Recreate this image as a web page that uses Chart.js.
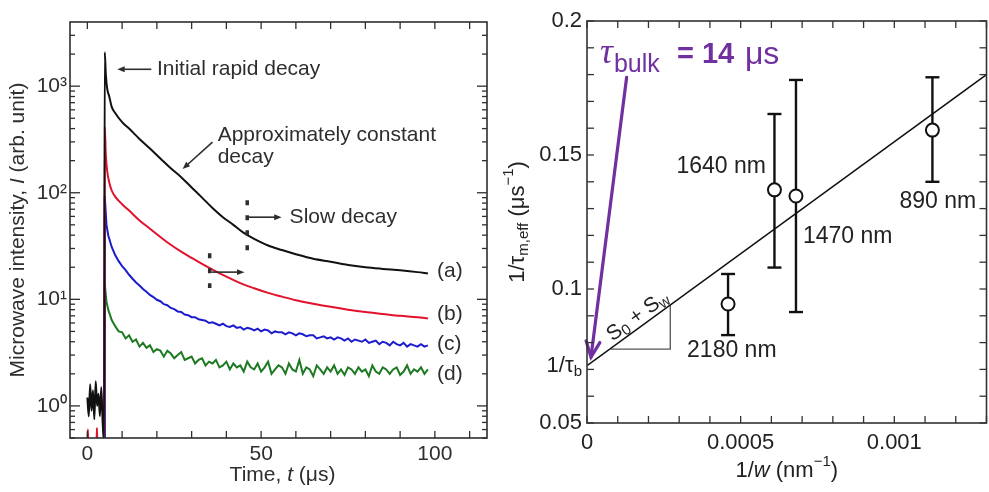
<!DOCTYPE html>
<html>
<head>
<meta charset="utf-8">
<script src="https://cdn.jsdelivr.net/npm/chart.js@4.4.1/dist/chart.umd.min.js"></script>
<style>
  html, body { margin: 0; padding: 0; background: #fff; }
  #wrap { position: relative; width: 989px; height: 492px; overflow: hidden; }
  #decayBox { position: absolute; left: 0; top: 0; width: 495px; height: 492px; }
  #lifeBox { position: absolute; left: 495px; top: 0; width: 500px; height: 492px; }
</style>
</head>
<body>
<div id="wrap">
  <div id="decayBox"><canvas id="decayChart"></canvas></div>
  <div id="lifeBox"><canvas id="lifeChart"></canvas></div>
</div>
<script>
// ---- left panel: microwave decay curves, time in µs ----
const blackTime = [0, 0.4, 0.8, 1.2, 1.6, 2.0, 2.4, 2.8, 3.2, 3.6, 4.0, 4.4, 4.8,
  5, 5.3, 5.7, 6.3, 7, 8, 10, 12, 15, 18, 21, 24, 27, 30, 33, 36, 39, 42, 45, 48,
  52, 56, 60, 65, 70, 75, 80, 85, 90, 95, 98];
const blackCurve = [1.2, 0.8, 1.6, 0.9, 1.4, 0.75, 1.7, 1.0, 1.3, 0.8, 1.5, 0.7, 0.45,
  2090, 1300, 950, 800, 640, 560, 460, 400, 320, 260, 210, 170, 140, 112, 90, 72, 59, 50, 42, 37,
  32, 29, 26.5, 24, 22.5, 21, 20, 19.3, 18.7, 18, 17.5];

const redTime = [0, 0.15, 0.3, 2.6, 2.75, 2.9, 4.9,
  5, 5.3, 5.7, 6.3, 7, 8, 10, 12, 15, 18, 21, 24, 27, 30, 33, 36, 40, 44, 48,
  52, 56, 60, 65, 70, 75, 80, 85, 90, 95, 98];
const redCurve = [0.4, 0.6, 0.4, 0.4, 0.62, 0.4, 0.4,
  415, 230, 160, 125, 105, 92, 78, 68, 55, 46, 38.5, 32.5, 28, 24.5, 21.5, 19, 16.3, 14.2, 12.7,
  11.5, 10.6, 9.8, 9.1, 8.5, 8.0, 7.6, 7.3, 7.0, 6.8, 6.6];

const noisyTime = [4.9, 5, 5.5, 6,
  7, 8, 9, 10, 11, 12, 13, 14, 15, 16,
  17, 18, 19, 20, 21, 22, 23, 24, 25, 26,
  27, 28, 29, 30, 31, 32, 33, 34, 35, 36,
  37, 38, 39, 40, 41, 42, 43, 44, 45, 46,
  47, 48, 49, 50, 51, 52, 53, 54, 55, 56,
  57, 58, 59, 60, 61, 62, 63, 64, 65, 66,
  67, 68, 69, 70, 71, 72, 73, 74, 75, 76,
  77, 78, 79, 80, 81, 82, 83, 84, 85, 86,
  87, 88, 89, 90, 91, 92, 93, 94, 95, 96,
  97, 98];
const blueCurve = [0.4, 93, 50, 40,
  31, 26, 22.8, 20.5, 18.8, 17.0, 15.6, 14.4, 13.5, 12.5,
  11.8, 11.0, 10.5, 9.9, 9.6, 9.0, 8.8, 8.3, 8.1, 7.7,
  7.6, 7.2, 7.1, 6.8, 6.8, 6.5, 6.4, 6.3, 6.0, 6.1,
  5.9, 5.7, 5.9, 5.6, 5.5, 5.7, 5.4, 5.5, 5.2, 5.4,
  5.3, 5.1, 5.3, 5.0, 5.2, 5.1, 4.8, 5.0, 4.9, 4.9,
  4.7, 4.9, 4.8, 4.6, 4.8, 4.7, 4.5, 4.6, 4.6, 4.3,
  4.4, 4.5, 4.3, 4.4, 4.2, 4.4, 4.3, 4.1, 4.3, 4.0,
  4.2, 4.1, 4.0, 4.2, 3.9, 4.0, 4.1, 3.8, 4.0, 3.9,
  3.7, 4.0, 3.8, 3.7, 3.9, 3.6, 3.8, 3.7, 3.6, 3.8,
  3.6, 3.7];
const greenCurve = [0.4, 14, 9.5, 8,
  6.4, 5.6, 5.0, 4.9, 4.3, 4.6, 4.0, 4.2, 3.6, 3.9,
  3.5, 3.7, 3.2, 3.4, 3.3, 2.9, 3.3, 3.1, 2.8, 3.0,
  3.2, 2.7, 2.8, 2.9, 2.5, 2.7, 2.8, 2.4, 2.6, 2.5,
  2.7, 2.3, 2.4, 2.6, 2.2, 2.5, 2.3, 2.4, 2.1, 2.6,
  2.3, 2.2, 2.5, 2.1, 2.3, 2.6, 2.0, 2.2, 2.4, 2.3,
  2.0, 2.5, 2.2, 2.1, 2.7, 2.0, 2.3, 2.2, 1.9, 2.4,
  2.2, 2.0, 2.3, 2.1, 2.4, 2.0, 2.2, 1.95, 2.3, 2.2,
  2.0, 2.3, 2.1, 2.2, 1.9, 2.4, 2.1, 2.0, 2.3, 2.2,
  2.0, 2.2, 2.3, 1.95, 2.1, 2.4, 2.0, 2.2, 2.1, 2.3,
  2.0, 2.2];
const curveTags = ['(a)', '(b)', '(c)', '(d)'];

const decayTimeTicks = [0, 10, 20, 30, 40, 50, 60, 70, 80, 90, 100, 110];
const decayTimeLabels = [0, 50, 100];
const decayLogTicks = [0.5, 0.6, 0.7, 0.8, 0.9,
  1, 2, 3, 4, 5, 6, 7, 8, 9,
  10, 20, 30, 40, 50, 60, 70, 80, 90,
  100, 200, 300, 400, 500, 600, 700, 800, 900,
  1000, 2000, 3000];
const decayLogLabels = { 1: '10⁰', 10: '10¹', 100: '10²', 1000: '10³' };

// ---- right panel: effective rate vs inverse wafer thickness ----
const invWidth = [0.000459, 0.000610, 0.000680, 0.001124];
const rateMean = [0.0944, 0.137, 0.1347, 0.1593];
const rateHigh = [0.1056, 0.1653, 0.178, 0.179];
const rateLow = [0.0828, 0.108, 0.0914, 0.140];
const widthLabels = ['2180 nm', '1640 nm', '1470 nm', '890 nm'];
const fitX = [0, 0.0013];
const fitY = [0.0714, 0.180];
const invWidthTicks = [0, 0.0001, 0.0002, 0.0003, 0.0004, 0.0005, 0.0006, 0.0007,
  0.0008, 0.0009, 0.001, 0.0011, 0.0012, 0.0013];
const invWidthLabels = [0, 0.0005, 0.001];
const rateTicks = [0.05, 0.06, 0.07, 0.08, 0.09, 0.1, 0.11, 0.12, 0.13, 0.14,
  0.15, 0.16, 0.17, 0.18, 0.19, 0.2];
const rateLabels = [0.05, 0.1, 0.15, 0.2];
const bulkRate = 0.0714;

const INK = '#2e2e2e';
const SANS = "'Liberation Sans', Arial, sans-serif";
const PURPLE = '#7030a0';

document.addEventListener('DOMContentLoaded', () => {
  Chart.defaults.font.family = SANS;
  Chart.defaults.color = INK;
  initDecayChart();
  initLifeChart();
});

/** draw text made of several pieces (sub/superscripts, italics) */
function drawRich(ctx, parts, x, y, align) {
  let w = 0;
  parts.forEach(p => { ctx.font = p.font; w += ctx.measureText(p.text).width; });
  let cx = align === 'center' ? x - w / 2 : align === 'right' ? x - w : x;
  ctx.textAlign = 'left';
  parts.forEach(p => {
    ctx.font = p.font;
    ctx.fillText(p.text, cx, y + (p.dy || 0));
    cx += ctx.measureText(p.text).width;
  });
}

function arrowLine(ctx, x1, y1, x2, y2, head, width) {
  const a = Math.atan2(y2 - y1, x2 - x1);
  ctx.lineWidth = width;
  ctx.beginPath();
  ctx.moveTo(x1, y1);
  ctx.lineTo(x2 - Math.cos(a) * head * 0.7, y2 - Math.sin(a) * head * 0.7);
  ctx.stroke();
  ctx.beginPath();
  ctx.moveTo(x2, y2);
  ctx.lineTo(x2 - head * Math.cos(a - 0.38), y2 - head * Math.sin(a - 0.38));
  ctx.lineTo(x2 - head * Math.cos(a + 0.38), y2 - head * Math.sin(a + 0.38));
  ctx.closePath();
  ctx.fill();
}

function seg(ctx, x1, y1, x2, y2) {
  ctx.beginPath(); ctx.moveTo(x1, y1); ctx.lineTo(x2, y2); ctx.stroke();
}

function pairs(xs, ys) {
  return xs.map((x, i) => ({ x: x, y: ys[i] }));
}

/** Left: log-scale decay curves */
function initDecayChart() {
  const ctx = document.getElementById('decayChart');
  const f21 = '21px ' + SANS;

  const decayDecor = {
    id: 'decayDecor',
    afterDatasetsDraw(chart) {
      const { ctx, scales: { x, y } } = chart;
      const P = (t, v) => [x.getPixelForValue(t), y.getPixelForValue(v)];
      ctx.save();
      ctx.fillStyle = INK;
      ctx.strokeStyle = INK;
      ctx.font = f21;
      ctx.textBaseline = 'middle';
      ctx.textAlign = 'left';

      // initial rapid decay
      let a = P(18.4, 1440), b = P(8.6, 1440);
      arrowLine(ctx, a[0], a[1], b[0], b[1], 8, 1.6);
      let t = P(20.0, 1440);
      ctx.fillText('Initial rapid decay', t[0], t[1]);

      // approximately constant decay
      t = P(37.5, 347);
      ctx.fillText('Approximately constant', t[0], t[1]);
      t = P(37.5, 216);
      ctx.fillText('decay', t[0], t[1]);
      a = P(36, 298); b = P(27.4, 167);
      arrowLine(ctx, a[0], a[1], b[0], b[1], 8, 1.6);

      // slow decay markers
      ctx.setLineDash([5, 10]);
      ctx.lineWidth = 3.5;
      a = P(46, 85); b = P(46, 27);
      seg(ctx, a[0], a[1], b[0], b[1]);
      a = P(35.2, 27); b = P(35.2, 12.8);
      seg(ctx, a[0], a[1], b[0], b[1]);
      ctx.setLineDash([]);
      a = P(46.1, 59); b = P(55.9, 59);
      arrowLine(ctx, a[0], a[1], b[0], b[1], 8, 1.6);
      t = P(58.2, 59);
      ctx.fillText('Slow decay', t[0], t[1]);
      a = P(35.7, 18); b = P(45.2, 18);
      arrowLine(ctx, a[0], a[1], b[0], b[1], 8, 1.6);

      // curve tags
      const tagVals = [18.5, 7.3, 3.8, 2.0];
      curveTags.forEach((tag, i) => {
        const p = P(100.6, tagVals[i]);
        ctx.fillText(tag, p[0], p[1]);
      });
      ctx.restore();
    },
    afterDraw(chart) {
      const { ctx, chartArea: c, scales: { x, y } } = chart;
      ctx.save();
      ctx.strokeStyle = INK;
      ctx.fillStyle = INK;
      ctx.lineWidth = 1.6;
      ctx.strokeRect(c.left, c.top, c.right - c.left, c.bottom - c.top);
      ctx.lineWidth = 1.3;
      x.ticks.forEach(tk => {
        const px = x.getPixelForValue(tk.value);
        seg(ctx, px, c.bottom, px, c.bottom - 7);
        seg(ctx, px, c.top, px, c.top + 7);
      });
      y.ticks.forEach(tk => {
        const py = y.getPixelForValue(tk.value);
        const len = decayLogLabels[tk.value] ? 10 : 5;
        seg(ctx, c.left, py, c.left + len, py);
        seg(ctx, c.right, py, c.right - len, py);
      });
      // axis titles
      ctx.textBaseline = 'middle';
      drawRich(ctx, [
        { text: 'Time, ', font: f21 },
        { text: 't', font: 'italic ' + f21 },
        { text: ' (μs)', font: f21 }
      ], (c.left + c.right) / 2 + 4, 475, 'center');
      ctx.translate(18, (c.top + c.bottom) / 2);
      ctx.rotate(-Math.PI / 2);
      drawRich(ctx, [
        { text: 'Microwave intensity, ', font: f21 },
        { text: 'I', font: 'italic ' + f21 },
        { text: ' (arb. unit)', font: f21 }
      ], 0, 0, 'center');
      ctx.restore();
    }
  };

  new Chart(ctx, {
    type: 'scatter',
    data: {
      datasets: [
        { data: pairs(blackTime, blackCurve), borderColor: '#111111', cubicInterpolationMode: 'monotone' },
        { data: pairs(redTime, redCurve), borderColor: '#e3122c', cubicInterpolationMode: 'monotone' },
        { data: pairs(noisyTime, blueCurve), borderColor: '#1c1ccf' },
        { data: pairs(noisyTime, greenCurve), borderColor: '#1d7a22' }
      ].map(d => Object.assign(d, { showLine: true, pointRadius: 0, borderWidth: 2 }))
    },
    options: {
      responsive: true,
      maintainAspectRatio: false,
      animation: false,
      layout: { padding: { left: 0, top: 22, right: 8, bottom: 0 } },
      plugins: { legend: { display: false }, tooltip: { enabled: false } },
      scales: {
        x: {
          type: 'linear', min: -5, max: 115,
          grid: { display: false, drawTicks: false }, border: { display: false },
          afterBuildTicks: s => { s.ticks = decayTimeTicks.map(v => ({ value: v })); },
          afterFit: s => { s.height = 54; },
          ticks: {
            padding: 4, autoSkip: false, maxRotation: 0,
            font: { size: 21 }, color: INK,
            callback: v => decayTimeLabels.includes(v) ? String(v) : ''
          }
        },
        y: {
          type: 'logarithmic', min: 0.5, max: 4000,
          grid: { display: false, drawTicks: false }, border: { display: false },
          afterBuildTicks: s => { s.ticks = decayLogTicks.map(v => ({ value: v })); },
          afterFit: s => { s.width = 70; },
          ticks: {
            padding: 3, autoSkip: false,
            font: { size: 21 }, color: INK,
            callback: v => decayLogLabels[v] || ''
          }
        }
      }
    },
    plugins: [decayDecor]
  });
}

/** Right: 1/tau vs 1/w with linear fit */
function initLifeChart() {
  const ctx = document.getElementById('lifeChart');
  const f22 = '22px ' + SANS;
  const f23 = '23px ' + SANS;
  const f15 = '15px ' + SANS;
  const labelOffsets = [[-41, 47], [-98, -23], [7, 41], [-33, 72]];

  const lifeDecor = {
    id: 'lifeDecor',
    beforeDatasetsDraw(chart) {
      const { ctx, scales: { x, y } } = chart;
      ctx.save();
      ctx.strokeStyle = '#111';
      ctx.lineWidth = 2.4;
      invWidth.forEach((w, i) => {
        const px = x.getPixelForValue(w);
        const top = y.getPixelForValue(rateHigh[i]);
        const bot = y.getPixelForValue(rateLow[i]);
        seg(ctx, px, top, px, bot);
        seg(ctx, px - 7, top, px + 7, top);
        seg(ctx, px - 7, bot, px + 7, bot);
      });
      // slope triangle
      ctx.strokeStyle = '#555';
      ctx.lineWidth = 1.3;
      ctx.beginPath();
      ctx.moveTo(x.getPixelForValue(0.0000774), y.getPixelForValue(0.0776));
      ctx.lineTo(x.getPixelForValue(0.000271), y.getPixelForValue(0.0776));
      ctx.lineTo(x.getPixelForValue(0.000271), y.getPixelForValue(0.0940));
      ctx.stroke();
      ctx.restore();
    },
    afterDatasetsDraw(chart) {
      const { ctx, scales: { x, y } } = chart;
      ctx.save();
      ctx.fillStyle = '#222';
      ctx.textBaseline = 'middle';
      ctx.font = f23;
      ctx.textAlign = 'left';
      widthLabels.forEach((lab, i) => {
        const px = x.getPixelForValue(invWidth[i]) + labelOffsets[i][0];
        const py = y.getPixelForValue(rateMean[i]) + labelOffsets[i][1];
        ctx.fillText(lab, px, py);
      });

      // S0 + Sw along the fit line
      const ang = Math.atan2(
        y.getPixelForValue(fitY[1]) - y.getPixelForValue(fitY[0]),
        x.getPixelForValue(fitX[1]) - x.getPixelForValue(fitX[0]));
      ctx.save();
      ctx.translate(x.getPixelForValue(0.000165), y.getPixelForValue(0.0899));
      ctx.rotate(ang);
      drawRich(ctx, [
        { text: 'S', font: '21px ' + SANS },
        { text: '0', font: f15, dy: 5 },
        { text: ' + S', font: '21px ' + SANS },
        { text: 'w', font: f15, dy: 5 }
      ], 0, 0, 'center');
      ctx.restore();

      // tau_bulk callout
      ctx.fillStyle = PURPLE;
      ctx.strokeStyle = PURPLE;
      const bx = x.getPixelForValue(0.000042), by = y.getPixelForValue(0.1843);
      ctx.textBaseline = 'alphabetic';
      ctx.textAlign = 'left';
      ctx.font = "italic 36px 'Liberation Serif', serif";
      ctx.fillText('τ', bx, by);
      ctx.font = '25px ' + SANS;
      ctx.fillText('bulk', bx + 14, by + 9);
      ctx.font = 'bold 29px ' + SANS;
      ctx.fillText('= 14', bx + 77, by);
      ctx.font = '32px ' + SANS;
      ctx.fillText('μs', bx + 145, by + 1);

      const ax = x.getPixelForValue(0.000129), ay = y.getPixelForValue(0.179);
      const tx = x.getPixelForValue(0.000013), ty = y.getPixelForValue(0.0746);
      const a = Math.atan2(ty - ay, tx - ax);
      ctx.lineWidth = 3.2;
      ctx.lineCap = 'round';
      seg(ctx, ax, ay, tx, ty);
      ctx.beginPath();
      ctx.moveTo(tx - 17 * Math.cos(a - 0.42), ty - 17 * Math.sin(a - 0.42));
      ctx.lineTo(tx, ty);
      ctx.lineTo(tx - 17 * Math.cos(a + 0.42), ty - 17 * Math.sin(a + 0.42));
      ctx.stroke();
      ctx.restore();
    },
    afterDraw(chart) {
      const { ctx, chartArea: c, scales: { x, y } } = chart;
      ctx.save();
      ctx.strokeStyle = '#333';
      ctx.fillStyle = '#222';
      ctx.lineWidth = 1.6;
      ctx.strokeRect(c.left, c.top, c.right - c.left, c.bottom - c.top);
      ctx.lineWidth = 1.3;
      x.ticks.forEach(tk => {
        const px = x.getPixelForValue(tk.value);
        seg(ctx, px, c.bottom, px, c.bottom - 7);
        seg(ctx, px, c.top, px, c.top + 7);
      });
      y.ticks.forEach(tk => {
        const py = y.getPixelForValue(tk.value);
        seg(ctx, c.left, py, c.left + 7, py);
        seg(ctx, c.right, py, c.right - 7, py);
      });
      ctx.textBaseline = 'middle';
      // 1/tau_b label on the axis
      drawRich(ctx, [
        { text: '1/τ', font: f22 },
        { text: 'b', font: f15, dy: 6 }
      ], c.left - 5, y.getPixelForValue(bulkRate), 'right');
      // axis titles
      drawRich(ctx, [
        { text: '1/', font: f22 },
        { text: 'w', font: 'italic ' + f22 },
        { text: ' (nm', font: f22 },
        { text: '−1', font: f15, dy: -9 },
        { text: ')', font: f22 }
      ], (c.left + c.right) / 2, 471, 'center');
      ctx.translate(23, (c.top + c.bottom) / 2);
      ctx.rotate(-Math.PI / 2);
      drawRich(ctx, [
        { text: '1/τ', font: f22 },
        { text: 'm,eff', font: f15, dy: 6 },
        { text: ' (μs', font: f22 },
        { text: '−1', font: f15, dy: -9 },
        { text: ')', font: f22 }
      ], 0, 0, 'center');
      ctx.restore();
    }
  };

  new Chart(ctx, {
    type: 'scatter',
    data: {
      datasets: [
        {
          data: pairs(invWidth, rateMean),
          pointRadius: 6.5, pointBorderWidth: 2,
          pointBorderColor: '#111', pointBackgroundColor: '#fff'
        },
        {
          data: pairs(fitX, fitY),
          showLine: true, pointRadius: 0,
          borderColor: '#111', borderWidth: 1.6
        }
      ]
    },
    options: {
      responsive: true,
      maintainAspectRatio: false,
      animation: false,
      layout: { padding: { left: 0, top: 21, right: 0, bottom: 0 } },
      plugins: { legend: { display: false }, tooltip: { enabled: false } },
      scales: {
        x: {
          type: 'linear', min: 0, max: 0.0013,
          grid: { display: false, drawTicks: false }, border: { display: false },
          afterBuildTicks: s => { s.ticks = invWidthTicks.map(v => ({ value: v })); },
          afterFit: s => { s.height = 69; },
          ticks: {
            padding: 7, autoSkip: false, maxRotation: 0,
            font: { size: 22 }, color: '#222',
            callback: v => invWidthLabels.includes(v) ? String(v) : ''
          }
        },
        y: {
          type: 'linear', min: 0.05, max: 0.2,
          grid: { display: false, drawTicks: false }, border: { display: false },
          afterBuildTicks: s => { s.ticks = rateTicks.map(v => ({ value: v })); },
          afterFit: s => { s.width = 92; },
          ticks: {
            padding: 5, autoSkip: false,
            font: { size: 22 }, color: '#222',
            callback: v => rateLabels.includes(v) ? String(v) : ''
          }
        }
      }
    },
    plugins: [lifeDecor]
  });
}
</script>
</body>
</html>
